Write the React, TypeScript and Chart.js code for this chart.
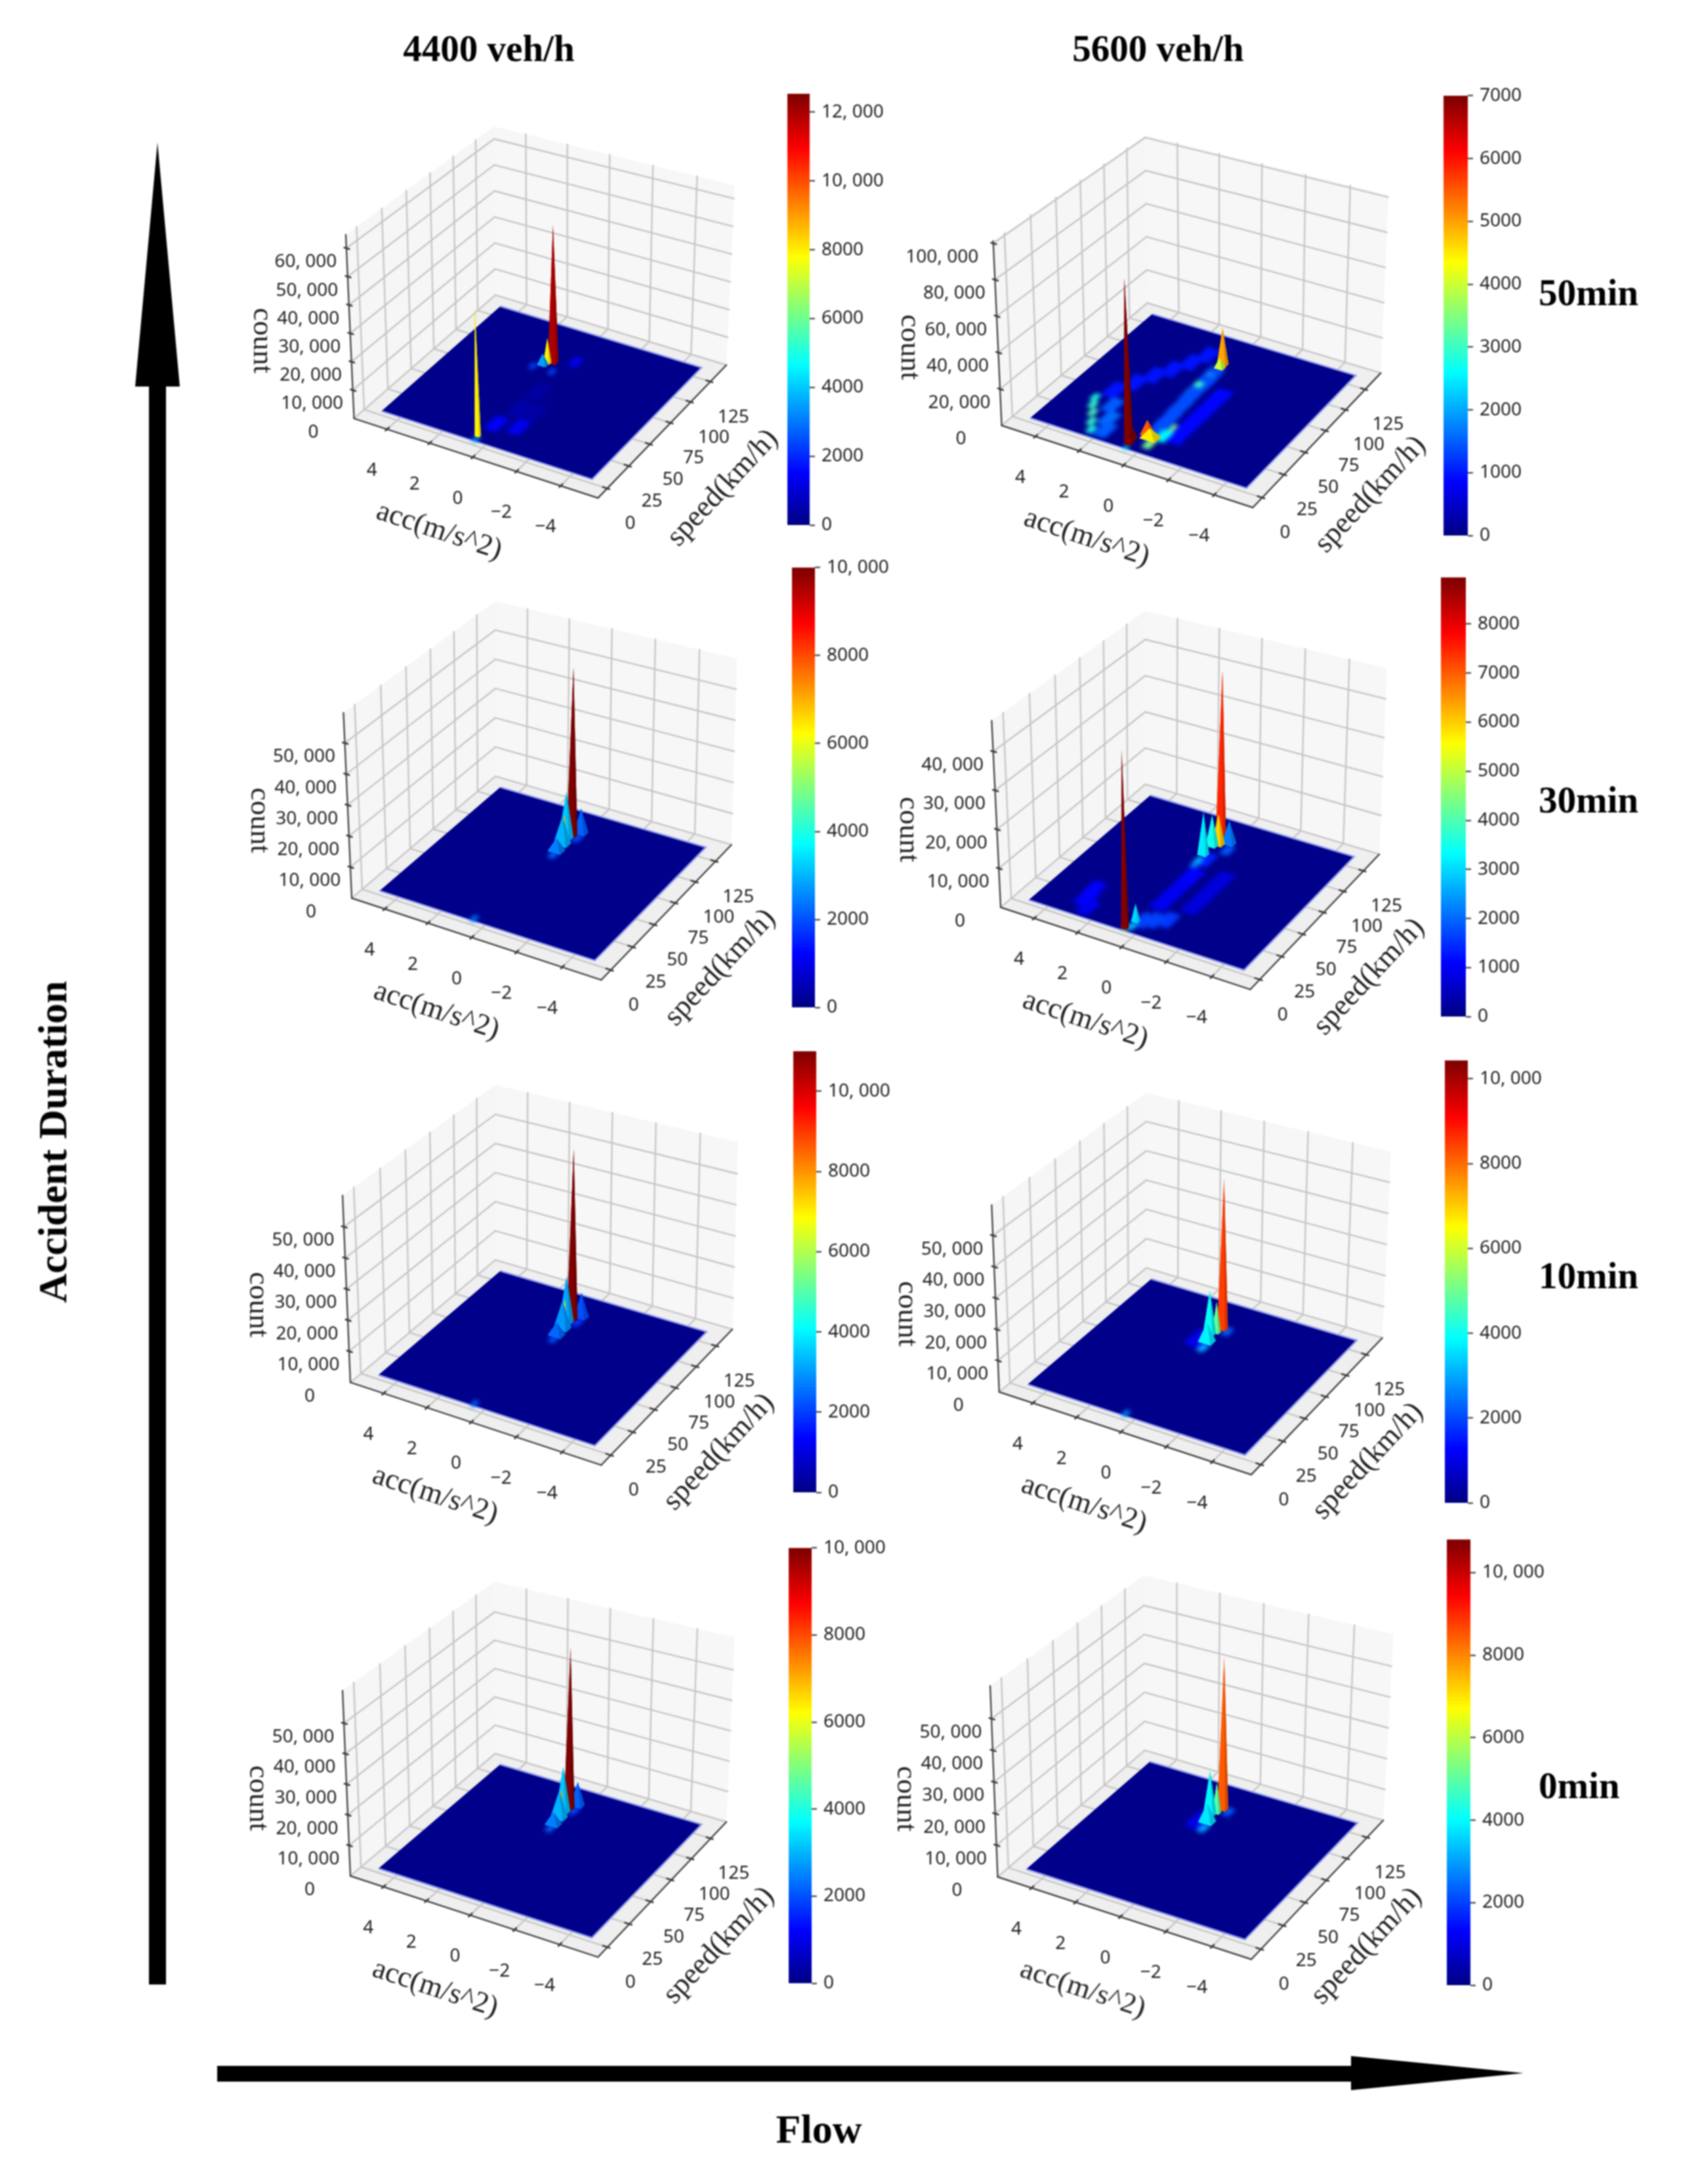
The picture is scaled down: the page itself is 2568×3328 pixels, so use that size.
import React, { useEffect, useRef } from "react";
import { Chart, registerables } from "chart.js";

Chart.register(...registerables);

// ---------- data ----------
const ACC_TICKS = [4, 2, 0, -2, -4];
const SPEED_TICKS = [0, 25, 50, 75, 100, 125];
const SURFACE_ACC = [4.9, -4.85];
const SURFACE_SPEED = [3.6, 136];

const COUNT_TICKS_4400_50 = [0, 10000, 20000, 30000, 40000, 50000, 60000];
const COUNT_TICKS_5600_50 = [0, 20000, 40000, 60000, 80000, 100000];
const COUNT_TICKS_4400_30 = [0, 10000, 20000, 30000, 40000, 50000];
const COUNT_TICKS_5600_30 = [0, 10000, 20000, 30000, 40000];
const COUNT_TICKS_STD = [0, 10000, 20000, 30000, 40000, 50000];

const BAR_TICKS_12K = [0, 2000, 4000, 6000, 8000, 10000, 12000];
const BAR_TICKS_7K = [0, 1000, 2000, 3000, 4000, 5000, 6000, 7000];
const BAR_TICKS_10K = [0, 2000, 4000, 6000, 8000, 10000];
const BAR_TICKS_8K = [0, 1000, 2000, 3000, 4000, 5000, 6000, 7000, 8000];

// each entry: acc, speed, count height, colour value, footprint
const PEAKS_4400_50 = [
  [0.1, 45, 500, 500, 0.6], [0.1, 65, 500, 400, 0.6], [-0.5, 45, 500, 450, 0.6],
  [0.4, 25, 1000, 1500, 0.5], [-0.5, 28, 1000, 1400, 0.5], [-0.1, 104, 1300, 1400, 0.35],
  [1.3, 88, 1800, 2400, 0.22], [0.4, 88, 1800, 2400, 0.22], [1.0, 92, 4000, 3500, 0.2],
  [0.9, 95, 9000, 8000, 0.14], [0.7, 97, 50000, 12000, 0.18],
  [0.6, 9, 45000, 8000, 0.1], [0.55, 6, 2500, 3500, 0.2],
];
const PEAKS_5600_50 = [
  [3.1, 52, 500, 1000, 0.55], [2.7, 65, 500, 1000, 0.55], [2.3, 77, 500, 1000, 0.55],
  [1.9, 88, 500, 1000, 0.55], [1.5, 100, 500, 1000, 0.55], [1.2, 112, 500, 1000, 0.55],
  [-0.8, 30, 500, 900, 0.6], [-0.8, 45, 500, 900, 0.6], [-0.8, 60, 500, 900, 0.6], [-0.8, 75, 500, 900, 0.6],
  [0.1, 25, 900, 1400, 0.55], [0.15, 40, 900, 1400, 0.55], [0.2, 55, 900, 1400, 0.55],
  [0.25, 70, 900, 1400, 0.55], [0.25, 85, 900, 1400, 0.55], [0.3, 95, 900, 1400, 0.55],
  [2.6, 38, 1000, 1500, 0.5], [2.2, 25, 1100, 1600, 0.5], [1.9, 14, 1000, 1500, 0.5],
  [3.5, 40, 2500, 2800, 0.25], [3.3, 33, 2500, 3000, 0.25], [3.0, 26, 2500, 3100, 0.25],
  [2.7, 18, 2500, 3000, 0.25], [2.4, 11, 2500, 2800, 0.25],
  [0.42, 72, 2600, 2800, 0.3], [0.4, 80, 2900, 3000, 0.3], [0.38, 90, 2800, 3000, 0.3], [0.35, 98, 3000, 3200, 0.3],
  [0.28, 103, 6000, 4000, 0.2], [0.3, 107, 21000, 5000, 0.2],
  [-0.3, 25, 2000, 2600, 0.4], [-0.43, 33, 3000, 3500, 0.35], [-0.1, 28, 3000, 3800, 0.3], [-0.1, 14, 3000, 3500, 0.3],
  [0.1, 20, 5000, 4500, 0.35], [0.3, 22, 8000, 5500, 0.25], [0.7, 14, 8000, 7000, 0.2],
  [0.6, 9, 90000, 7000, 0.15], [0.55, 5, 3000, 2500, 0.15],
];
const PEAKS_4400_30 = [
  [0.05, 108, 3000, 2000, 0.3], [0.1, 114, 8000, 2200, 0.25], [0.25, 85, 1500, 2300, 0.25],
  [0.3, 90, 4000, 2500, 0.3], [0.35, 98, 9000, 3000, 0.3], [0.45, 105, 15000, 3200, 0.25],
  [0.45, 103, 8000, 7000, 0.1], [0.33, 109, 55000, 10000, 0.18], [0.6, 6, 2000, 2500, 0.2],
];
const PEAKS_5600_30 = [
  [3, 22, 700, 1100, 0.55], [3.1, 32, 700, 1100, 0.5], [2.6, 14, 700, 1000, 0.5],
  [-1, 45, 500, 800, 0.6], [-1, 60, 500, 800, 0.6], [-1, 75, 500, 800, 0.6],
  [0.2, 40, 600, 1000, 0.6], [0.2, 55, 600, 1000, 0.6], [0.2, 70, 600, 1100, 0.6], [0.3, 90, 1400, 1400, 0.5],
  [-0.15, 21, 800, 1700, 0.5], [-0.6, 25, 800, 1600, 0.5], [0.2, 18, 800, 1700, 0.5],
  [-0.1, 105, 1400, 1900, 0.35], [0.1, 112, 6000, 2200, 0.25], [0.5, 82, 1400, 2300, 0.25],
  [0.55, 87, 3000, 2800, 0.25], [0.6, 94, 11000, 3200, 0.2], [0.63, 105, 8000, 3500, 0.22],
  [0.45, 108, 8000, 6000, 0.22], [0.45, 111, 45000, 7500, 0.18],
  [0.45, 15, 4500, 3000, 0.15], [0.4, 10, 1500, 2800, 0.25], [0.57, 6.3, 44700, 8900, 0.12], [0.55, 6, 2000, 4500, 0.15],
];
const PEAKS_4400_10 = [
  [0.05, 108, 3000, 2000, 0.3], [0.1, 114, 8000, 2200, 0.25], [0.25, 85, 1500, 2300, 0.25],
  [0.3, 90, 4000, 2500, 0.3], [0.35, 98, 9000, 3000, 0.3], [0.45, 105, 15000, 3200, 0.25],
  [0.45, 103, 8000, 7000, 0.1], [0.33, 109, 56000, 11000, 0.18], [0.55, 6, 2500, 2500, 0.2],
];
const PEAKS_5600_10 = [
  [0.8, 92, 800, 1100, 0.6], [0.05, 107, 3000, 2300, 0.3], [0.3, 85, 2500, 3000, 0.3],
  [0.4, 92, 6000, 3800, 0.3], [0.6, 100, 14000, 4000, 0.22], [0.4, 103, 10000, 5000, 0.15],
  [0.31, 108, 49000, 8500, 0.18], [0.5, 6, 3000, 2800, 0.2],
];
const PEAKS_4400_0 = [
  [0.3, 112, 3000, 2000, 0.3], [0.35, 118, 8000, 2200, 0.25], [0.45, 88, 1500, 2300, 0.25],
  [0.5, 93, 4000, 2500, 0.3], [0.55, 101, 9000, 3000, 0.3], [0.65, 108, 15000, 3200, 0.25],
  [0.65, 106, 8000, 7000, 0.1], [0.55, 113, 54000, 10000, 0.18],
];
const PEAKS_5600_0 = [
  [0.8, 94, 800, 1100, 0.6], [0.1, 110, 3000, 2300, 0.3], [0.38, 88, 2500, 3000, 0.3],
  [0.48, 95, 6000, 3800, 0.3], [0.68, 103, 14000, 4000, 0.22], [0.48, 106, 10000, 5000, 0.15],
  [0.39, 111, 50000, 8500, 0.18],
];

const COLUMN_TITLES = ["4400 veh/h", "5600 veh/h"];
const ROW_TITLES = ["50min", "30min", "10min", "0min"];

// ---------- layout: corners as seen in the reference, [x,y] in crop units ----------
type P = [number, number];
const ACC_RANGE = [5.56, -5.67];
const SPEED_RANGE = [-10.5, 145.8];

const PANELS = [
  { view: [320, 120, 1.4255], L: [313, 1068], B: [843, 1318], R: [1122, 900], K: [620, 680], LT: [295, 490], BT: [848, 715], RT: [1140, 335], KT: [617, 150],
    zMax: 64800, counts: COUNT_TICKS_4400_50, peaks: PEAKS_4400_50, bar: [1200, 1234, 140, 803], vMax: 12535, barTicks: BAR_TICKS_12K },
  { view: [1320, 120, 1.3067], L: [270, 1090], B: [770, 1348], R: [1025, 925], K: [560, 705], LT: [253, 510], BT: [772, 742], RT: [1040, 365], KT: [556, 178],
    zMax: 101300, counts: COUNT_TICKS_5600_50, peaks: PEAKS_5600_50, bar: [2200, 2237, 143, 819], vMax: 7000, barTicks: BAR_TICKS_7K },
  { view: [320, 880, 1.4255], L: [308, 1008], B: [850, 1265], R: [1133, 840], K: [620, 625], LT: [290, 425], BT: [855, 645], RT: [1145, 255], KT: [620, 75],
    zMax: 59800, counts: COUNT_TICKS_4400_30, peaks: PEAKS_4400_30, bar: [1207, 1242, 862, 1538], vMax: 10000, barTicks: BAR_TICKS_10K },
  { view: [1320, 880, 1.3067], L: [268, 1037], B: [765, 1295], R: [1022, 870], K: [556, 650], LT: [250, 450], BT: [770, 670], RT: [1037, 285], KT: [556, 105],
    zMax: 47900, counts: COUNT_TICKS_5600_30, peaks: PEAKS_5600_30, bar: [2196, 2234, 877, 1552], vMax: 8950, barTicks: BAR_TICKS_8K },
  { view: [320, 1600, 1.4255], L: [305, 1045], B: [850, 1305], R: [1135, 878], K: [620, 660], LT: [288, 457], BT: [855, 677], RT: [1147, 290], KT: [620, 110],
    zMax: 60100, counts: COUNT_TICKS_STD, peaks: PEAKS_4400_10, bar: [1209, 1244, 1599, 2277], vMax: 11000, barTicks: BAR_TICKS_10K },
  { view: [1320, 1600, 1.3067], L: [265, 1075], B: [767, 1335], R: [1028, 905], K: [558, 685], LT: [250, 487], BT: [770, 712], RT: [1045, 320], KT: [558, 135],
    zMax: 59800, counts: COUNT_TICKS_STD, peaks: PEAKS_5600_10, bar: [2202, 2237, 1613, 2293], vMax: 10433, barTicks: BAR_TICKS_10K },
  { view: [320, 2340, 1.4255], L: [305, 1070], B: [843, 1325], R: [1122, 900], K: [620, 685], LT: [288, 487], BT: [850, 702], RT: [1140, 320], KT: [618, 145],
    zMax: 60700, counts: COUNT_TICKS_STD, peaks: PEAKS_4400_0, bar: [1202, 1237, 2356, 3025], vMax: 10000, barTicks: BAR_TICKS_10K },
  { view: [1320, 2340, 1.3067], L: [262, 1073], B: [767, 1332], R: [1030, 895], K: [555, 675], LT: [247, 472], BT: [772, 697], RT: [1050, 310], KT: [553, 125],
    zMax: 60400, counts: COUNT_TICKS_STD, peaks: PEAKS_5600_0, bar: [2205, 2241, 2343, 3028], vMax: 10805, barTicks: BAR_TICKS_10K },
];

// ---------- helpers ----------
const clip01 = (v: number) => Math.max(0, Math.min(1, v));
function jet(t: number, shade = 1) {
  const x = clip01(t);
  const r = clip01(Math.min(4 * x - 1.5, -4 * x + 4.5));
  const g = clip01(Math.min(4 * x - 0.5, -4 * x + 3.5));
  const b = clip01(Math.min(4 * x + 0.5, -4 * x + 2.5));
  return `rgb(${Math.round(r * 255 * shade)},${Math.round(g * 255 * shade)},${Math.round(b * 255 * shade)})`;
}

function quadMap(p0: P, p1: P, p2: P, p3: P) {
  const dx1 = p1[0] - p2[0], dx2 = p3[0] - p2[0], sx = p0[0] - p1[0] + p2[0] - p3[0];
  const dy1 = p1[1] - p2[1], dy2 = p3[1] - p2[1], sy = p0[1] - p1[1] + p2[1] - p3[1];
  const det = dx1 * dy2 - dx2 * dy1;
  const g = (sx * dy2 - dx2 * sy) / det, h = (dx1 * sy - sx * dy1) / det;
  const a = p1[0] - p0[0] + g * p1[0], b = p3[0] - p0[0] + h * p3[0], c = p0[0];
  const d = p1[1] - p0[1] + g * p1[1], e = p3[1] - p0[1] + h * p3[1], f = p0[1];
  return (u: number, v: number): P => {
    const w = g * u + h * v + 1;
    return [(a * u + b * v + c) / w, (d * u + e * v + f) / w];
  };
}

function makeProjector(p: any) {
  const [ox, oy, sx] = p.view;
  const sy = 2.063;
  const full = (q: number[]): P => [ox + q[0] / sx, oy + q[1] / sy];
  const floor = quadMap(full(p.L), full(p.B), full(p.R), full(p.K));
  const top = quadMap(full(p.LT), full(p.BT), full(p.RT), full(p.KT));
  return (acc: number, speed: number, z: number): { x: number; y: number } => {
    const u = (ACC_RANGE[0] - acc) / (ACC_RANGE[0] - ACC_RANGE[1]);
    const v = (speed - SPEED_RANGE[0]) / (SPEED_RANGE[1] - SPEED_RANGE[0]);
    const a = floor(u, v), b = top(u, v), w = z / p.zMax;
    return { x: a[0] + (b[0] - a[0]) * w, y: a[1] + (b[1] - a[1]) * w };
  };
}

const poly = (data: any[], color: string, edge?: string, edgeWidth = 0) => ({
  data, fill: "shape", backgroundColor: color, borderColor: edge || color, borderWidth: edgeWidth,
  pointRadius: 0, tension: 0,
});
const seg = (data: any[], color: string, width: number) => ({
  data, fill: false, borderColor: color, borderWidth: width, pointRadius: 0, tension: 0, borderCapStyle: "round",
});

const FLAT_LIMIT = 4000;

function frameDatasets(p: any) {
  const P3 = makeProjector(p);
  const [a0, a1] = ACC_RANGE, [s0, s1] = SPEED_RANGE, Z = p.zMax;
  const out: any[] = [];
  const grid = "#c6c6c6", gw = 2.4;
  out.push(poly([P3(a0, s0, 0), P3(a0, s1, 0), P3(a0, s1, Z), P3(a0, s0, Z)], "#f6f6f6"));
  out.push(poly([P3(a0, s1, 0), P3(a1, s1, 0), P3(a1, s1, Z), P3(a0, s1, Z)], "#f7f7f7"));
  out.push(poly([P3(a0, s0, 0), P3(a1, s0, 0), P3(a1, s1, 0), P3(a0, s1, 0)], "#efefef"));
  for (const s of SPEED_TICKS) {
    out.push(seg([P3(a0, s, 0), P3(a1, s, 0)], grid, gw));
    out.push(seg([P3(a0, s, 0), P3(a0, s, Z)], grid, gw));
  }
  for (const a of ACC_TICKS) {
    out.push(seg([P3(a, s0, 0), P3(a, s1, 0)], grid, gw));
    out.push(seg([P3(a, s1, 0), P3(a, s1, Z)], grid, gw));
  }
  for (const c of p.counts) {
    out.push(seg([P3(a0, s0, c), P3(a0, s1, c)], grid, gw));
    out.push(seg([P3(a0, s1, c), P3(a1, s1, c)], grid, gw));
  }
  const ink = "#3a3a3a";
  out.push(seg([P3(a0, s0, 0), P3(a1, s0, 0)], ink, 2.2));
  out.push(seg([P3(a1, s0, 0), P3(a1, s1, 0)], ink, 2.2));
  out.push(seg([P3(a0, s0, 0), P3(a0, s0, Z)], ink, 2.2));
  for (const a of ACC_TICKS) out.push(seg([P3(a, s0 - 1.5, 0), P3(a, s0 + 2, 0)], ink, 2.6));
  for (const s of SPEED_TICKS) out.push(seg([P3(a1 - 0.1, s, 0), P3(a1 + 0.2, s, 0)], ink, 2.6));
  for (const c of p.counts.slice(1)) out.push(seg([P3(a0 + 0.1, s0, c), P3(a0 - 0.14, s0, c)], ink, 2.6));
  const [ac0, ac1] = SURFACE_ACC, [sp0, sp1] = SURFACE_SPEED;
  out.push(poly([P3(ac0, sp0, 0), P3(ac1, sp0, 0), P3(ac1, sp1, 0), P3(ac0, sp1, 0)], "#00008a", "#8f9bea", 2.5));
  return out.reverse(); // the first dataset is painted last
}

function peakDatasets(p: any, flat: boolean) {
  const P3 = makeProjector(p);
  const out: any[] = [];
  const chosen = p.peaks.filter((m: number[]) => (m[2] < FLAT_LIMIT) === flat);
  const sorted = [...chosen].sort((m: number[], n: number[]) => P3(m[0], m[1], 0).y - P3(n[0], n[1], 0).y);
  for (const [acc, speed, h, tone, size] of sorted) {
    const da = flat ? size * 0.6 : size, ds = flat ? size * 15 : size * 10;
    const top = P3(acc, speed, h);
    const A = P3(acc + da, speed - ds, 0), Bq = P3(acc - da, speed - ds, 0);
    const C = P3(acc - da, speed + ds, 0), D = P3(acc + da, speed + ds, 0);
    const t = tone / p.vMax;
    if (flat) {
      out.push(poly([A, Bq, C, D], jet(t)));
      continue;
    }
    out.push(poly([D, C, top], jet(t, 0.9)));
    out.push(poly([A, D, top], jet(t, 1)));
    out.push(poly([Bq, C, top], jet(t, 0.82)));
    out.push(poly([A, Bq, top], jet(t, 1)));
  }
  return out.reverse();
}

const baseOptions = (x0: number, x1: number, y0: number, y1: number): any => ({
  responsive: false,
  animation: false,
  devicePixelRatio: 1,
  events: [],
  layout: { padding: 0, autoPadding: false },
  plugins: { legend: { display: false }, tooltip: { enabled: false }, title: { display: false } },
  scales: {
    x: { type: "linear", min: x0, max: x1, display: false },
    y: { type: "linear", min: y0, max: y1, reverse: true, display: false },
  },
});

function ChartBox({ left, top, width, height, make, filter }: any) {
  const ref = useRef<HTMLCanvasElement>(null);
  useEffect(() => {
    const c = new Chart(ref.current as HTMLCanvasElement, make());
    return () => c.destroy();
  }, []);
  return <canvas ref={ref} width={width} height={height} style={{ position: "absolute", left, top, width, height, display: "block", filter }} />;
}

const fmt = (v: number) => (v >= 10000 ? `${Math.floor(v / 1000)}, ${String(v % 1000).padStart(3, "0")}` : String(v));
const TICK_FONT = '"Noto Sans", sans-serif';
const SERIF = '"Liberation Serif", serif';

function barConfig(p: any) {
  const N = 128;
  const datasets: any[] = [];
  for (let i = N - 1; i >= 0; i--) {
    const lo = (i / N) * p.vMax, hi = ((i + 1) / N) * p.vMax;
    datasets.push({
      data: [[Math.max(0, lo - p.vMax / N / 3), hi]],
      backgroundColor: jet((i + 0.5) / N),
      borderWidth: 0, grouped: false, barPercentage: 1, categoryPercentage: 1,
    });
  }
  return {
    type: "bar",
    data: { labels: ["c"], datasets },
    options: {
      responsive: false, animation: false, devicePixelRatio: 1, events: [],
      layout: { padding: { top: 24, bottom: 24, left: 0, right: 0 }, autoPadding: false },
      plugins: { legend: { display: false }, tooltip: { enabled: false } },
      scales: {
        x: { display: false, offset: true },
        y: {
          position: "right", min: 0, max: p.vMax,
          grid: { drawOnChartArea: false, drawTicks: true, tickLength: 8, tickColor: "#333", tickWidth: 2 },
          border: { display: false },
          afterBuildTicks: (axis: any) => { axis.ticks = p.barTicks.map((value: number) => ({ value })); },
          afterFit: (axis: any) => { axis.width = 130; },
          ticks: { autoSkip: false, padding: 10, color: "#222", font: { family: TICK_FONT, size: 28 }, callback: (v: number) => fmt(v) },
        },
      },
    },
  };
}

function Label({ x, y, angle = 0, font, size, bold, text }: any) {
  return (
    <div style={{
      position: "absolute", left: x, top: y, transform: `translate(-50%,-50%) rotate(${angle}deg)`,
      fontFamily: font, fontSize: size, fontWeight: bold ? 700 : 400, color: bold ? "#000" : "#222",
      whiteSpace: "pre", lineHeight: 1,
    }}>{text}</div>
  );
}

function Panel({ p }: any) {
  const P3 = makeProjector(p);
  const [a0, a1] = ACC_RANGE, [s0] = SPEED_RANGE;
  const L = P3(a0, s0, 0), B = P3(a1, s0, 0), Rr = P3(a1, SPEED_RANGE[1], p.zMax), KT = P3(a0, SPEED_RANGE[1], p.zMax), LT = P3(a0, s0, p.zMax);
  const x0 = Math.floor(LT.x - 20), x1 = Math.ceil(Rr.x + 30), y0 = Math.floor(KT.y - 60), y1 = Math.ceil(B.y + 20);
  const [bx0, bx1, by0, by1] = p.bar;
  const layer = (datasets: () => any[]) => () => ({ type: "line", data: { datasets: datasets() }, options: baseOptions(x0, x1, y0, y1) });
  const box = { left: x0, top: y0, width: x1 - x0, height: y1 - y0 };
  return (
    <>
      <ChartBox {...box} make={layer(() => frameDatasets(p))} />
      <ChartBox {...box} filter="blur(3px)" make={layer(() => peakDatasets(p, true))} />
      <ChartBox {...box} make={layer(() => peakDatasets(p, false))} />
      <ChartBox left={bx0} top={by0 - 24} width={bx1 - bx0 + 130} height={by1 - by0 + 48} make={() => barConfig(p)} />
      {ACC_TICKS.map((a) => { const q = P3(a, s0, 0); return <Label key={"a" + a} x={q.x - 23} y={q.y + 60} font={TICK_FONT} size={28} text={a < 0 ? "\u2212" + -a : String(a)} />; })}
      {SPEED_TICKS.map((s) => { const q = P3(a1, s, 0); return <Label key={"s" + s} x={q.x + 35} y={q.y + 51} font={TICK_FONT} size={28} text={String(s)} />; })}
      {p.counts.map((c: number) => { const q = P3(a0, s0, c); return <Label key={"c" + c} x={q.x - (c >= 100000 ? 78 : 62)} y={q.y + 18} font={TICK_FONT} size={28} text={fmt(c)} />; })}
      <Label x={L.x + 130} y={L.y + 169} angle={18.4} font={SERIF} size={45} text="acc(m/s^2)" />
      <Label x={L.x + 560} y={L.y + 104} angle={-47} font={SERIF} size={45} text="speed(km/h)" />
      <Label x={L.x - 139} y={L.y - 119} angle={90} font={SERIF} size={45} text="count" />
    </>
  );
}

const ARROW_UP: P[] = [[240, 217], [274, 589], [253, 589], [253, 3024], [227, 3024], [227, 589], [206, 589]];
const ARROW_RIGHT: P[] = [[331, 3148], [2059, 3148], [2059, 3133], [2322, 3159], [2059, 3185], [2059, 3172], [331, 3172]];
const ROW_Y = [445, 1218, 1943, 2720];

export default function App() {
  return (
    <div style={{ position: "absolute", left: 0, top: 0, width: 2568, height: 3328, overflow: "hidden", background: "#fff", filter: "blur(1px)" }}>
      <ChartBox left={0} top={0} width={2568} height={3328} make={() => ({
        type: "line",
        data: { datasets: [ARROW_UP, ARROW_RIGHT].map((a) => poly(a.map(([x, y]) => ({ x, y })), "#000")) },
        options: baseOptions(0, 2568, 0, 3328),
      })} />
      {PANELS.map((p, i) => <Panel key={i} p={p} />)}
      <Label x={745} y={73} font={SERIF} size={57} bold text={COLUMN_TITLES[0]} />
      <Label x={1765} y={73} font={SERIF} size={57} bold text={COLUMN_TITLES[1]} />
      {ROW_TITLES.map((t, i) => (
        <div key={t} style={{ position: "absolute", left: 2345, top: ROW_Y[i], transform: "translateY(-50%)", fontFamily: SERIF, fontSize: 57, fontWeight: 700, color: "#000", lineHeight: 1 }}>{t}</div>
      ))}
      <Label x={80} y={1740} angle={-90} font={SERIF} size={62} bold text="Accident Duration" />
      <Label x={1248} y={3244} font={SERIF} size={62} bold text="Flow" />
    </div>
  );
}
